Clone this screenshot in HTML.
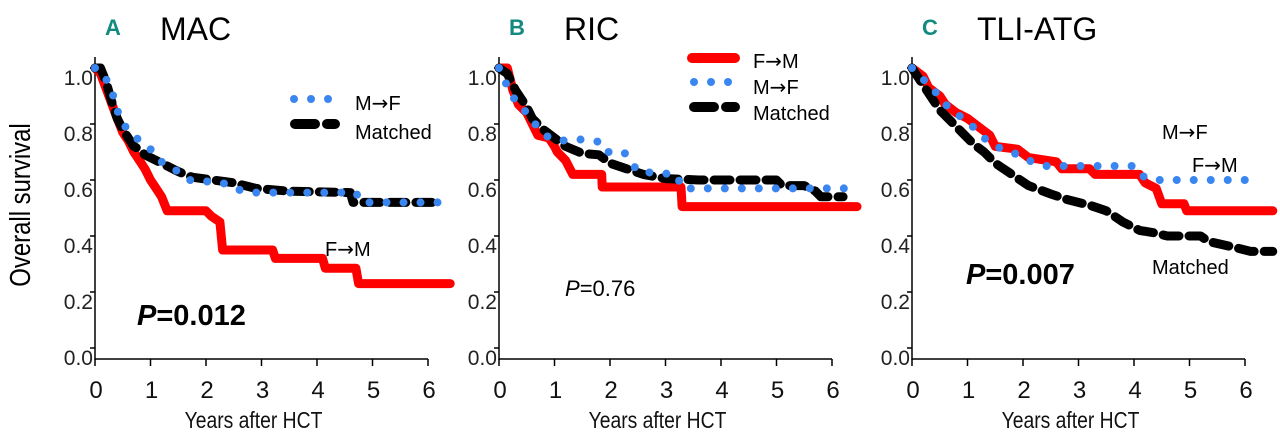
<!DOCTYPE html>
<html><head><meta charset="utf-8">
<style>
body{margin:0;background:#fff;width:1280px;height:436px;overflow:hidden}
svg text{font-family:"Liberation Sans",sans-serif}
.arr{font-family:"DejaVu Sans",sans-serif}
</style></head>
<body>
<svg id="chart" width="1280" height="436" viewBox="0 0 1280 436" xmlns="http://www.w3.org/2000/svg">
<text x="0" y="0" transform="translate(30,205) rotate(-90) scale(0.92,1.1)" text-anchor="middle" font-size="26">Overall survival</text>
</svg>
<script>
const xTicks=[0,1,2,3,4,5,6];
const yTicks=[0,0.2,0.4,0.6,0.8,1.0];
const yTickLabels=["0.0","0.2","0.4","0.6","0.8","1.0"];
// Panel A (MAC)
const aRedT=[0,0.1,0.25,0.4,0.5,0.6,0.7,0.8,0.9,1.0,1.1,1.2,1.3,2.0,2.1,2.25,2.3,3.2,3.25,4.1,4.15,4.7,4.75,6.4];
const aRedV=[1.0,0.98,0.9,0.82,0.77,0.74,0.7,0.67,0.64,0.6,0.57,0.54,0.49,0.49,0.47,0.45,0.35,0.35,0.32,0.32,0.285,0.285,0.23,0.23];
const aBlkT=[0,0.1,0.2,0.3,0.4,0.5,0.6,0.7,0.8,0.9,1.0,1.1,1.3,1.5,1.75,2.5,2.9,3.5,4.6,4.65,6.15];
const aBlkV=[1.0,1.0,0.95,0.88,0.82,0.78,0.75,0.72,0.71,0.69,0.68,0.67,0.65,0.63,0.61,0.59,0.57,0.56,0.555,0.52,0.52];
const aBluT=[0,0.15,0.25,0.35,0.4,0.5,0.7,0.85,1.0,1.1,1.3,1.5,1.7,2.3,2.5,2.8,4.7,4.8,6.2];
const aBluV=[1.0,0.98,0.94,0.89,0.85,0.8,0.76,0.73,0.71,0.68,0.65,0.63,0.6,0.59,0.57,0.555,0.555,0.52,0.52];
// Panel B (RIC)
const bRedT=[0,0.15,0.25,0.35,0.5,0.6,0.7,0.9,1.0,1.05,1.2,1.33,1.85,1.86,3.28,3.3,6.45];
const bRedV=[1.0,1.0,0.92,0.87,0.84,0.8,0.76,0.75,0.72,0.7,0.67,0.62,0.62,0.575,0.575,0.505,0.505];
const bBlkT=[0,0.15,0.3,0.5,0.6,0.8,1.0,1.2,1.5,1.8,2.0,2.3,2.6,3.0,3.6,5.0,5.1,5.5,5.7,5.8,6.2];
const bBlkV=[1.0,0.98,0.92,0.86,0.82,0.78,0.75,0.72,0.695,0.69,0.66,0.64,0.62,0.605,0.6,0.6,0.58,0.58,0.56,0.54,0.54];
const bBluT=[0,0.05,0.2,0.3,0.5,0.6,0.75,0.9,1.2,1.5,1.85,1.95,2.25,2.4,2.5,3.2,3.3,6.5];
const bBluV=[1.0,0.97,0.92,0.88,0.84,0.81,0.78,0.75,0.74,0.745,0.735,0.7,0.7,0.66,0.63,0.62,0.57,0.57];
// Panel C (TLI-ATG)
const cRedT=[0,0.2,0.3,0.5,0.6,0.8,1.0,1.2,1.4,1.5,1.9,2.1,2.6,2.7,3.2,3.3,4.1,4.2,4.4,4.5,4.9,4.95,6.5];
const cRedV=[1.0,0.97,0.93,0.9,0.87,0.84,0.82,0.79,0.76,0.72,0.71,0.68,0.665,0.64,0.64,0.62,0.62,0.59,0.57,0.515,0.515,0.49,0.49];
const cBlkT=[0,0.1,0.3,0.5,0.7,0.9,1.1,1.3,1.5,1.8,2.1,2.5,2.8,3.2,3.5,3.8,4.1,4.4,4.6,5.2,5.35,5.8,6.1,6.5];
const cBlkV=[1.0,0.97,0.91,0.85,0.81,0.77,0.73,0.7,0.66,0.62,0.58,0.55,0.53,0.51,0.49,0.45,0.42,0.41,0.4,0.4,0.38,0.36,0.345,0.345];
const cBluT=[0,0.2,0.4,0.6,0.8,0.9,1.1,1.3,1.5,1.8,2.1,2.4,4.0,4.1,4.3,6.3];
const cBluV=[1.0,0.96,0.92,0.87,0.84,0.82,0.79,0.75,0.72,0.7,0.67,0.65,0.65,0.62,0.6,0.6];

const NS="http://www.w3.org/2000/svg";
const svg=document.getElementById('chart');
function mk(tag,attrs,parent){const e=document.createElementNS(NS,tag);for(const k in attrs)e.setAttribute(k,attrs[k]);(parent||svg).appendChild(e);return e;}
function txt(s,attrs,parent){const e=mk('text',attrs,parent);e.textContent=s;return e;}
const RED="#ff0000",BLUE="#3a86f0",BLK="#000";
const Y0=348,YS=280;
function yS(v){return Y0-YS*v;}

function panel(id,x0,letter,title,series){
  const g=mk('g',{});
  
  
  const xS=t=>x0+55.5*t;
  const l=txt(letter,{x:x0+10,y:35,'font-size':22,'font-weight':'bold',fill:'#138a80'},g);
  
  
  const tt=txt(title,{x:x0+65,y:40,'font-size':32},g);
  
  
  const ya=mk('line',{x1:x0,y1:57,x2:x0,y2:360,stroke:'#000','stroke-width':1.5},g);
  
  
  const xa=mk('line',{x1:x0,y1:359,x2:xS(6),y2:359,stroke:'#000','stroke-width':1.5},g);
  
  
  yTicks.forEach((v,i)=>{
    mk('line',{x1:x0-5,y1:yS(v),x2:x0,y2:yS(v),stroke:'#000','stroke-width':1.5},g);
    const t=txt(yTickLabels[i],{x:x0-2,y:yS(v)+17,'font-size':21,'text-anchor':'end',fill:'#222'},g);
    
    
  });
  xTicks.forEach(v=>{
    mk('line',{x1:xS(v),y1:359,x2:xS(v),y2:366,stroke:'#000','stroke-width':1.5},g);
    const t=txt(String(v),{x:xS(v)+1,y:398,'font-size':24,'text-anchor':'middle',fill:'#111'},g);
    
    
  });
  const xt=txt('Years after HCT',{x:0,y:0,'font-size':21,'text-anchor':'middle',transform:'translate('+(xS(3)-8)+',428) scale(0.92,1.12)',fill:'#111'},g);
  
  
  series.forEach(s=>{
    const d=s.t.map((t,i)=>(i?'L':'M')+xS(t).toFixed(1)+','+yS(s.v[i]).toFixed(1)).join(' ');
    const p=mk('path',Object.assign({d:d,fill:'none','stroke-linecap':'round','stroke-linejoin':'round'},s.style),g);
    
    
  });
  return g;
}
const redStyle={stroke:RED,'stroke-width':9};
const blkStyle={stroke:BLK,'stroke-width':9,'stroke-dasharray':'16 10'};
const bluStyle={stroke:BLUE,'stroke-width':8,'stroke-dasharray':'0 17'};
panel('a',95,'A','MAC',[
 {name:'line-f-to-m-a',t:aRedT,v:aRedV,style:redStyle},
 {name:'line-matched-a',t:aBlkT,v:aBlkV,style:blkStyle},
 {name:'line-m-to-f-a',t:aBluT,v:aBluV,style:bluStyle}]);
panel('b',499,'B','RIC',[
 {name:'line-f-to-m-b',t:bRedT,v:bRedV,style:redStyle},
 {name:'line-matched-b',t:bBlkT,v:bBlkV,style:blkStyle},
 {name:'line-m-to-f-b',t:bBluT,v:bBluV,style:bluStyle}]);
panel('c',912,'C','TLI-ATG',[
 {name:'line-f-to-m-c',t:cRedT,v:cRedV,style:redStyle},
 {name:'line-matched-c',t:cBlkT,v:cBlkV,style:blkStyle},
 {name:'line-m-to-f-c',t:cBluT,v:cBluV,style:bluStyle}]);

function label(s,x,y,size,name){const t=mk('text',{x:x,y:y,'font-size':size});
 t.innerHTML=s.replace('→','<tspan class="arr">→</tspan>');
 
 return t;}
function legLine(x1,x2,y,style,name){const l=mk('line',Object.assign({x1:x1,y1:y,x2:x2,y2:y,'stroke-linecap':'round'},style));
 
 }
// Panel A legend
legLine(294,334,99,bluStyle,'legend-swatch-m-to-f-a');
label('M→F',355,110,20,'legend-label-m-to-f-a');
legLine(295,335,124,{stroke:BLK,'stroke-width':10,'stroke-dasharray':'20 12'},'legend-swatch-matched-a');
label('Matched',355,139,20,'legend-label-matched-a');
label('F→M',325,256,20,'annotation-f-to-m-a');
// Panel B legend
legLine(692,735,58,{stroke:RED,'stroke-width':10},'legend-swatch-f-to-m-b');
label('F→M',753,68,20,'legend-label-f-to-m-b');
legLine(694,734,82,bluStyle,'legend-swatch-m-to-f-b');
label('M→F',753,94,20,'legend-label-m-to-f-b');
legLine(694,735,107,{stroke:BLK,'stroke-width':10,'stroke-dasharray':'20 12'},'legend-swatch-matched-b');
label('Matched',753,120,20,'legend-label-matched-b');
// Panel C labels
label('M→F',1162,139,20,'annotation-m-to-f-c');
label('F→M',1192,172,20,'annotation-f-to-m-c');
label('Matched',1152,274,20,'annotation-matched-c');
// P values
const pa=txt('',{x:137,y:325,'font-size':29,'font-weight':'bold'});


pa.innerHTML='<tspan font-style="italic">P</tspan>=0.012';
const pb=txt('',{x:565,y:296,'font-size':22});


pb.innerHTML='<tspan font-style="italic">P</tspan>=0.76';
const pc=txt('',{x:966,y:284,'font-size':29,'font-weight':'bold'});


pc.innerHTML='<tspan font-style="italic">P</tspan>=0.007';
</script>
</body></html>
